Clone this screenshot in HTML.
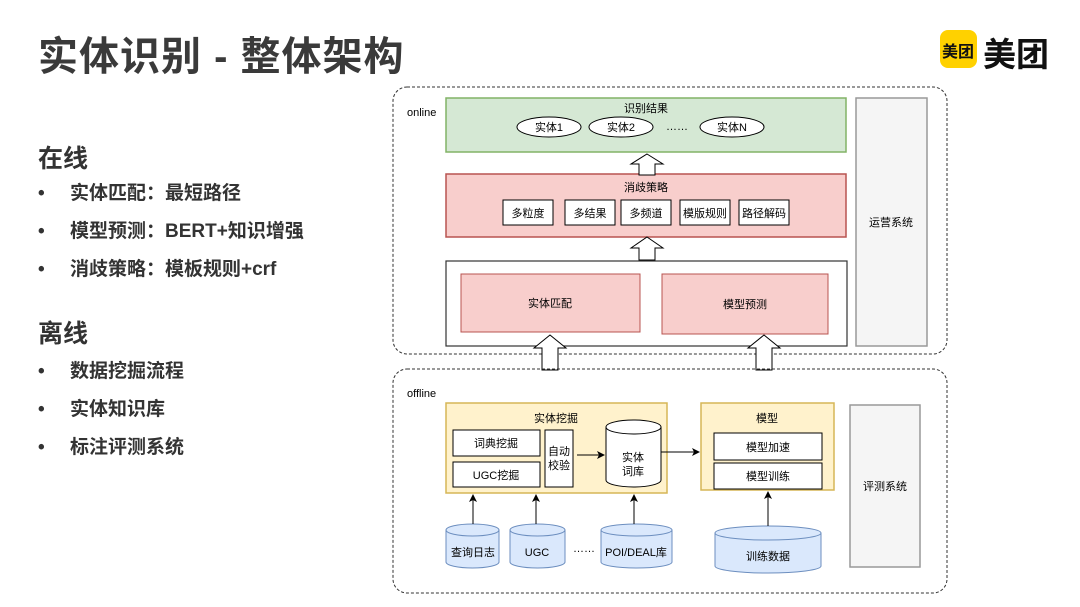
<!DOCTYPE html>
<html><head><meta charset="utf-8"><style>
html,body{margin:0;padding:0;background:#fff;}
body{width:1080px;height:607px;overflow:hidden;position:relative;font-family:"Liberation Sans","Noto Sans CJK SC",sans-serif;}
.t{position:absolute;color:#333;font-weight:bold;white-space:nowrap;}
.b{position:absolute;left:38px;font-size:19px;font-weight:bold;color:#333;line-height:28px;}
.s{line-height:28px;font-size:19px;}
</style></head><body>
<div class="t" style="left:38px;top:24px;font-size:40px;letter-spacing:1px;color:#3a3a3a">实体识别 - 整体架构</div>
<div class="t" style="left:38px;top:139px;font-size:25px;">在线</div>
<div class="b" style="top:180px">•</div><div class="t s" style="left:70px;top:180px;">实体匹配：最短路径</div>
<div class="b" style="top:218px">•</div><div class="t s" style="left:70px;top:218px;">模型预测：BERT+知识增强</div>
<div class="b" style="top:256px">•</div><div class="t s" style="left:70px;top:256px;">消歧策略：模板规则+crf</div>
<div class="t" style="left:38px;top:314px;font-size:25px;">离线</div>
<div class="b" style="top:358px">•</div><div class="t s" style="left:70px;top:358px;">数据挖掘流程</div>
<div class="b" style="top:396px">•</div><div class="t s" style="left:70px;top:396px;">实体知识库</div>
<div class="b" style="top:434px">•</div><div class="t s" style="left:70px;top:434px;">标注评测系统</div>
<div style="position:absolute;left:940px;top:30px;width:37px;height:38px;background:#ffd100;border-radius:8px;"></div>
<div class="t" style="left:942px;top:38px;font-size:16px;color:#111">美团</div>
<div class="t" style="left:983px;top:28px;font-size:33px;color:#111">美团</div>

<svg width="1080" height="607" style="position:absolute;left:0;top:0" font-family="Liberation Sans, Noto Sans CJK SC, sans-serif" font-size="11" fill="#000">
<defs><marker id="ah" markerWidth="8" markerHeight="8" refX="7" refY="4" orient="auto" markerUnits="userSpaceOnUse"><path d="M0,0 L8,4 L0,8 L2,4 z" fill="#000"/></marker></defs>
<rect x="393" y="87" width="554" height="267" rx="14" fill="none" stroke="#333" stroke-dasharray="3,2"/>
<text x="407" y="116">online</text>
<rect x="446" y="98" width="400" height="54" fill="#d5e8d4" stroke="#82b366" stroke-width="1.5"/>
<text x="646" y="112" text-anchor="middle">识别结果</text>
<g fill="#fff" stroke="#000"><ellipse cx="549" cy="127" rx="32" ry="10"/><ellipse cx="621" cy="127" rx="32" ry="10"/><ellipse cx="732" cy="127" rx="32" ry="10"/></g>
<text x="549" y="131" text-anchor="middle">实体1</text><text x="621" y="131" text-anchor="middle">实体2</text><text x="677" y="130" text-anchor="middle">……</text><text x="732" y="131" text-anchor="middle">实体N</text>
<rect x="446" y="174" width="400" height="63" fill="#f8cecc" stroke="#b85450" stroke-width="1.5"/>
<text x="646" y="191" text-anchor="middle">消歧策略</text>
<g fill="#fff" stroke="#000"><rect x="503" y="200" width="50" height="25"/><rect x="565" y="200" width="50" height="25"/><rect x="621" y="200" width="50" height="25"/><rect x="680" y="200" width="50" height="25"/><rect x="739" y="200" width="50" height="25"/></g>
<text x="528" y="217" text-anchor="middle">多粒度</text><text x="590" y="217" text-anchor="middle">多结果</text><text x="646" y="217" text-anchor="middle">多频道</text><text x="705" y="217" text-anchor="middle">模版规则</text><text x="764" y="217" text-anchor="middle">路径解码</text>
<rect x="446" y="261" width="401" height="85" fill="#fff" stroke="#333" stroke-width="1.2"/>
<rect x="461" y="274" width="179" height="58" fill="#f8cecc" stroke="#b85450"/>
<rect x="662" y="274" width="166" height="60" fill="#f8cecc" stroke="#b85450"/>
<text x="550" y="307" text-anchor="middle">实体匹配</text><text x="745" y="308" text-anchor="middle">模型预测</text>
<rect x="856" y="98" width="71" height="248" fill="#f5f5f5" stroke="#999" stroke-width="1.5"/>
<text x="891" y="226" text-anchor="middle">运营系统</text>
<g fill="#fff" stroke="#000">
<polygon points="647,154 663,164 655,164 655,175 639,175 639,164 631,164"/>
<polygon points="647,237 663,248 655,248 655,260 639,260 639,248 631,248"/>
<polygon points="550,335 566,348 558,348 558,370 542,370 542,348 534,348"/>
<polygon points="764,335 780,348 772,348 772,370 756,370 756,348 748,348"/>
</g>
<rect x="393" y="369" width="554" height="224" rx="14" fill="none" stroke="#333" stroke-dasharray="3,2"/>
<text x="407" y="397">offline</text>
<rect x="446" y="403" width="221" height="90" fill="#fff2cc" stroke="#d6b656" stroke-width="1.5"/>
<text x="556" y="422" text-anchor="middle">实体挖掘</text>
<g fill="#fff" stroke="#000"><rect x="453" y="430" width="87" height="26"/><rect x="453" y="462" width="87" height="25"/><rect x="545" y="430" width="28" height="57"/></g>
<text x="496" y="447" text-anchor="middle">词典挖掘</text><text x="496" y="479" text-anchor="middle">UGC挖掘</text>
<text x="559" y="455" text-anchor="middle">自动</text><text x="559" y="469" text-anchor="middle">校验</text>
<line x1="577" y1="455" x2="604" y2="455" stroke="#000" marker-end="url(#ah)"/>
<path d="M606,427 a27.5,7 0 0 1 55,0 v53 a27.5,7 0 0 1 -55,0 z" fill="#fff" stroke="#000"/>
<path d="M606,427 a27.5,7 0 0 0 55,0" fill="none" stroke="#000"/>
<text x="633" y="461" text-anchor="middle">实体</text><text x="633" y="475" text-anchor="middle">词库</text>
<line x1="661" y1="452" x2="699" y2="452" stroke="#000" marker-end="url(#ah)"/>
<rect x="701" y="403" width="133" height="87" fill="#fff2cc" stroke="#d6b656" stroke-width="1.5"/>
<text x="767" y="422" text-anchor="middle">模型</text>
<g fill="#fff" stroke="#000"><rect x="714" y="433" width="108" height="27"/><rect x="714" y="463" width="108" height="26"/></g>
<text x="768" y="451" text-anchor="middle">模型加速</text><text x="768" y="480" text-anchor="middle">模型训练</text>
<rect x="850" y="405" width="70" height="162" fill="#f5f5f5" stroke="#999" stroke-width="1.5"/>
<text x="885" y="490" text-anchor="middle">评测系统</text>
<g fill="#dae8fc" stroke="#6c8ebf">
<path d="M446,530 a26.5,6 0 0 1 53,0 v32 a26.5,6 0 0 1 -53,0 z"/><path d="M446,530 a26.5,6 0 0 0 53,0" fill="none"/>
<path d="M510,530 a27.5,6 0 0 1 55,0 v32 a27.5,6 0 0 1 -55,0 z"/><path d="M510,530 a27.5,6 0 0 0 55,0" fill="none"/>
<path d="M601,530 a35.5,6 0 0 1 71,0 v32 a35.5,6 0 0 1 -71,0 z"/><path d="M601,530 a35.5,6 0 0 0 71,0" fill="none"/>
<path d="M715,533 a53,7 0 0 1 106,0 v33 a53,7 0 0 1 -106,0 z"/><path d="M715,533 a53,7 0 0 0 106,0" fill="none"/>
</g>
<text x="473" y="556" text-anchor="middle">查询日志</text><text x="537" y="556" text-anchor="middle">UGC</text><text x="584" y="552" text-anchor="middle">……</text><text x="636" y="556" text-anchor="middle">POI/DEAL库</text><text x="768" y="560" text-anchor="middle">训练数据</text>
<g stroke="#000" marker-end="url(#ah)">
<line x1="473" y1="524" x2="473" y2="495"/><line x1="536" y1="524" x2="536" y2="495"/><line x1="634" y1="524" x2="634" y2="495"/><line x1="768" y1="526" x2="768" y2="492"/>
</g>
</svg>
</body></html>
